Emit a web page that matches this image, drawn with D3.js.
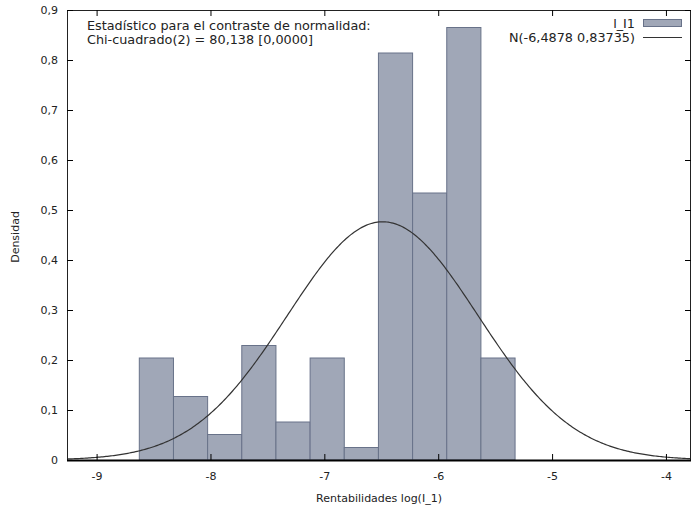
<!DOCTYPE html>
<html>
<head>
<meta charset="utf-8">
<script src="https://cdn.jsdelivr.net/npm/d3@7"></script>
<style>
  body { margin: 0; background: #fff; }
  text { font-family: "DejaVu Sans", Verdana, sans-serif; font-size: 11px; fill: #222; }
  .big { font-size: 12.8px; }
</style>
</head>
<body>
<div id="chart"></div>
<script>
// datos del histograma (centros de clase y densidades)
const binCenters = [-8.475, -8.175, -7.875, -7.575, -7.275, -6.975, -6.675, -6.375, -6.075, -5.775, -5.475];
const densities = [0.204, 0.127, 0.051, 0.229, 0.076, 0.204, 0.025, 0.814, 0.534, 0.865, 0.204];
const binWidth = 0.3;

// parametros de la normal
const normMean = -6.4878;
const normSd = 0.83735;

const xTicks = [-9, -8, -7, -6, -5, -4];
const yTicks = [0, 0.1, 0.2, 0.3, 0.4, 0.5, 0.6, 0.7, 0.8, 0.9];

const seriesName = "l_I1";
const curveName = "N(-6,4878 0,83735)";
const noteLines = ["Estadístico para el contraste de normalidad:", "Chi-cuadrado(2) = 80,138 [0,0000]"];

const width = 692;
const height = 510;
const mLeft = 67, mRight = 691, mTop = 10, mBottom = 460;

const locale = d3.formatLocale({decimal: ",", thousands: ".", grouping: [3], currency: ["", ""], minus: "-"});
const fmtY = locale.format(".1~f");
const fmtX = locale.format("d");

const x = d3.scaleLinear().domain([-9.26, -3.78]).range([mLeft, mRight]);
const y = d3.scaleLinear().domain([0, 0.9]).range([mBottom, mTop]);

const svg = d3.select("#chart")
    .append("svg")
    .attr("width", width)
    .attr("height", height);

// barras
svg.append("g")
    .selectAll("rect")
    .data(binCenters)
    .enter()
    .append("rect")
    .attr("x", d => x(d - binWidth / 2))
    .attr("y", (d, i) => y(densities[i]))
    .attr("width", d => x(d + binWidth / 2) - x(d - binWidth / 2))
    .attr("height", (d, i) => y(0) - y(densities[i]))
    .style("fill", "#a0a7b7")
    .style("stroke", "#687289")
    .style("stroke-width", 1);

// curva normal
const curvePts = d3.range(0, 401).map(i => {
    const xv = -9.26 + i * (5.48 / 400);
    const z = (xv - normMean) / normSd;
    return [xv, Math.exp(-0.5 * z * z) / (normSd * Math.sqrt(2 * Math.PI))];
});

svg.append("path")
    .datum(curvePts)
    .attr("d", d3.line().x(d => x(d[0])).y(d => y(d[1])))
    .style("fill", "none")
    .style("stroke", "#333")
    .style("stroke-width", 1.2);

// marco
svg.append("rect")
    .attr("x", mLeft + 0.5)
    .attr("y", mTop + 0.5)
    .attr("width", mRight - mLeft - 1)
    .attr("height", mBottom - mTop)
    .style("fill", "none")
    .style("stroke", "#222")
    .style("stroke-width", 1);

svg.append("line")
    .attr("x1", mLeft).attr("x2", mRight)
    .attr("y1", mBottom + 0.5).attr("y2", mBottom + 0.5)
    .style("stroke", "#000")
    .style("stroke-width", 2);

// ejes con marcas hacia dentro
svg.append("g")
    .attr("transform", `translate(0,${mBottom})`)
    .call(d3.axisBottom(x).tickValues(xTicks).tickSize(-6).tickPadding(12).tickFormat(fmtX))
    .call(g => g.select(".domain").remove());

svg.append("g")
    .attr("transform", `translate(0,${mTop})`)
    .call(d3.axisTop(x).tickValues(xTicks).tickSize(-6).tickFormat(""))
    .call(g => g.select(".domain").remove());

svg.append("g")
    .attr("transform", `translate(${mLeft},0)`)
    .call(d3.axisLeft(y).tickValues(yTicks).tickSize(-6).tickPadding(9).tickFormat(fmtY))
    .call(g => g.select(".domain").remove());

svg.append("g")
    .attr("transform", `translate(${mRight},0)`)
    .call(d3.axisRight(y).tickValues(yTicks.slice(1)).tickSize(-6).tickFormat(""))
    .call(g => g.select(".domain").remove());

svg.selectAll(".tick text")
    .style("font-family", "DejaVu Sans, Verdana, sans-serif")
    .style("font-size", "11px")
    .style("fill", "#222");

// titulos
svg.append("text")
    .attr("x", (mLeft + mRight) / 2)
    .attr("y", 502)
    .style("text-anchor", "middle")
    .text("Rentabilidades log(I_1)");

svg.append("text")
    .attr("transform", "translate(19,237) rotate(-90)")
    .style("text-anchor", "middle")
    .text("Densidad");

// nota
svg.append("g")
    .selectAll("text")
    .data(noteLines)
    .enter()
    .append("text")
    .attr("class", "big")
    .attr("x", 87)
    .attr("y", (d, i) => 29.5 + i * 14)
    .text(d => d);

// leyenda
svg.append("text")
    .attr("class", "big")
    .attr("x", 635)
    .attr("y", 27.5)
    .style("text-anchor", "end")
    .text(seriesName);

svg.append("rect")
    .attr("x", 643.5)
    .attr("y", 19.5)
    .attr("width", 38)
    .attr("height", 7)
    .style("fill", "#a0a7b7")
    .style("stroke", "#687289");

svg.append("text")
    .attr("class", "big")
    .attr("x", 635)
    .attr("y", 42)
    .style("text-anchor", "end")
    .text(curveName);

svg.append("line")
    .attr("x1", 643).attr("x2", 682)
    .attr("y1", 37.5).attr("y2", 37.5)
    .style("stroke", "#333")
    .style("stroke-width", 1.2);
</script>
</body>
</html>
